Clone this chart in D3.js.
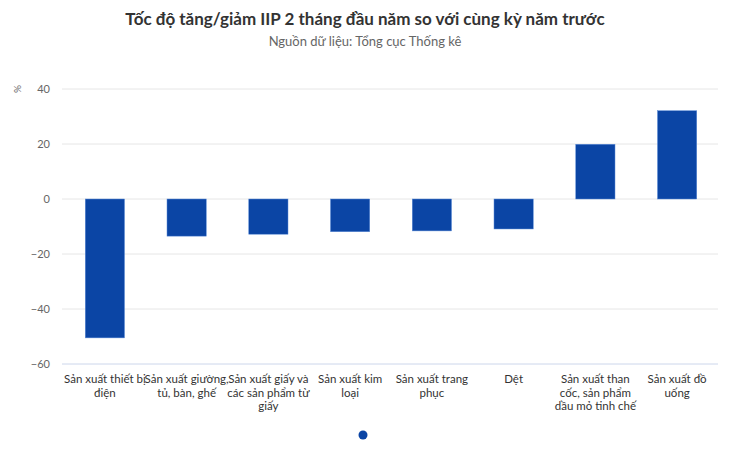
<!DOCTYPE html>
<html>
<head>
<meta charset="utf-8">
<script src="https://cdn.jsdelivr.net/npm/d3@7"></script>
<style>
  body { margin: 0; background: #fff; }
  svg { font-family: "Lato", "Open Sans", sans-serif; }
</style>
</head>
<body>
<svg id="chart" width="730" height="450"></svg>
<script>
"use strict";

let categories = [
    "Sản xuất thiết bị điện",
    "Sản xuất giường, tủ, bàn, ghế",
    "Sản xuất giấy và các sản phẩm từ giấy",
    "Sản xuất kim loại",
    "Sản xuất trang phục",
    "Dệt",
    "Sản xuất than cốc, sản phẩm dầu mỏ tinh chế",
    "Sản xuất đồ uống"
];
// label lines as they wrap in the picture
let label_lines = [
    ["Sản xuất thiết bị", "điện"],
    ["Sản xuất giường,", "tủ, bàn, ghế"],
    ["Sản xuất giấy và", "các sản phẩm từ", "giấy"],
    ["Sản xuất kim", "loại"],
    ["Sản xuất trang", "phục"],
    ["Dệt"],
    ["Sản xuất than", "cốc, sản phẩm", "dầu mỏ tinh chế"],
    ["Sản xuất đồ", "uống"]
];
let values = [-50.5, -13.5, -12.8, -11.9, -11.6, -10.9, 19.9, 32.1];
let y_ticks = [-60, -40, -20, 0, 20, 40];

let bar_color = "#0b45a5";

let svg = d3.select("#chart");
let plot_left = 62, plot_right = 718, plot_top = 89, plot_bottom = 364;

let x = d3.scaleBand().domain(categories).range([64, plot_right]).paddingInner(0.52).paddingOuter(0.26);
let y = d3.scaleLinear().domain([-60, 40]).range([plot_bottom, plot_top]);

// title
svg.append("text").attr("x", 365).attr("y", 25).attr("text-anchor", "middle")
    .attr("font-size", 17).attr("font-weight", "bold").attr("fill", "#333")
    .text("Tốc độ tăng/giảm IIP 2 tháng đầu năm so với cùng kỳ năm trước");
svg.append("text").attr("x", 365).attr("y", 46).attr("text-anchor", "middle")
    .attr("font-size", 13).attr("fill", "#666")
    .text("Nguồn dữ liệu: Tổng cục Thống kê");

// grid lines
svg.append("g").selectAll("line").data(y_ticks).join("line")
    .attr("x1", plot_left).attr("x2", plot_right)
    .attr("y1", d => y(d)).attr("y2", d => y(d))
    .attr("stroke", d => d == -60 ? "#ccd6eb" : "#e6e6e6").attr("stroke-width", 1);

// y axis labels
let y_axis = svg.append("g").attr("transform", "translate(50,0)")
    .call(d3.axisLeft(y).tickValues(y_ticks).tickSize(0).tickPadding(0));
y_axis.select(".domain").remove();
y_axis.selectAll("text").attr("font-size", 11).attr("fill", "#666").attr("font-family", "Lato, sans-serif");

svg.append("text").attr("transform", "translate(21," + y(40) + ") rotate(-90)")
    .attr("text-anchor", "middle").attr("font-size", 10).attr("fill", "#666").text("%");

// bars
svg.append("g").selectAll("rect").data(values).join("rect")
    .attr("x", (d, i) => x(categories[i]))
    .attr("width", x.bandwidth())
    .attr("y", d => y(Math.max(0, d)))
    .attr("height", d => Math.abs(y(d) - y(0)))
    .attr("fill", bar_color)
    .attr("stroke", "#5a8ad6").attr("stroke-width", 0.5);

// x labels
let label_g = svg.append("g");
label_lines.forEach((lines, i) => {
    let cx = x(categories[i]) + x.bandwidth() / 2;
    let t = label_g.append("text").attr("text-anchor", "middle")
        .attr("font-size", 11.5).attr("fill", "#333");
    lines.forEach((line, j) => {
        t.append("tspan").attr("x", cx).attr("y", 383 + j * 13.5).text(line);
    });
});

// legend/pagination dot
svg.append("circle").attr("cx", 363).attr("cy", 435).attr("r", 4.5).attr("fill", "#0b45a5");
</script>
</body>
</html>
